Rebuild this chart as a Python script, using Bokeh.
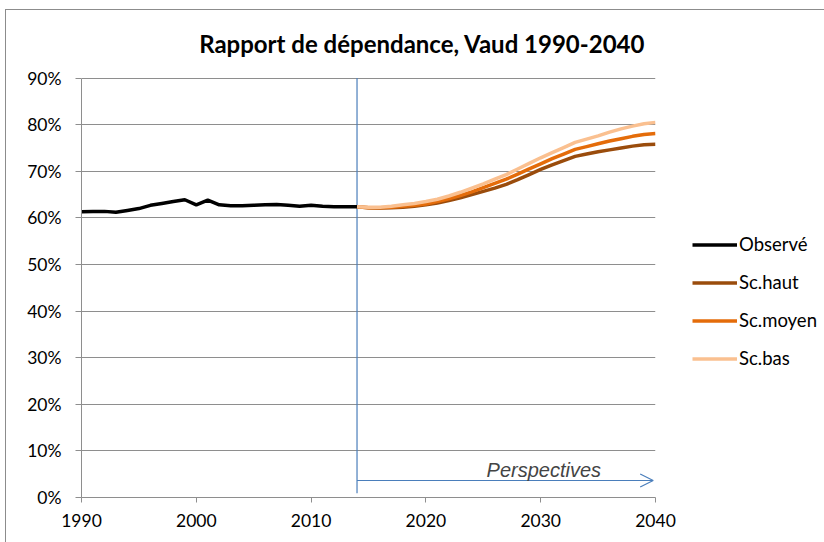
from bokeh.plotting import figure
from bokeh.layouts import row
from bokeh.models import (Range1d, FixedTicker, PrintfTickFormatter, Legend,
                          LegendItem, Label, Arrow, OpenHead)
from bokeh.embed import file_html
from bokeh.resources import INLINE

# ---- data ----
obs_years = list(range(1990, 2015))
obs_vals = [61.3, 61.35, 61.4, 61.2, 61.6, 62.0, 62.7, 63.1, 63.5, 63.9,
            62.8, 63.8, 62.8, 62.6, 62.6, 62.7, 62.8, 62.9, 62.7, 62.5,
            62.7, 62.5, 62.4, 62.4, 62.4]

proj_years = list(range(2014, 2041))
sc_haut = [62.4, 62.2, 62.1, 62.2, 62.3, 62.5, 62.8, 63.2, 63.7, 64.3,
           65.0, 65.7, 66.4, 67.2, 68.2, 69.3, 70.4, 71.4, 72.3, 73.2,
           73.7, 74.2, 74.6, 75.0, 75.4, 75.7, 75.8]
sc_moyen = [62.4, 62.2, 62.2, 62.3, 62.5, 62.7, 63.0, 63.5, 64.1, 64.8,
            65.6, 66.5, 67.4, 68.3, 69.4, 70.5, 71.6, 72.7, 73.7, 74.7,
            75.3, 75.9, 76.5, 77.0, 77.5, 77.9, 78.1]
sc_bas = [62.4, 62.3, 62.3, 62.5, 62.8, 63.1, 63.5, 64.0, 64.7, 65.5,
          66.4, 67.3, 68.3, 69.3, 70.5, 71.7, 72.9, 74.0, 75.1, 76.2,
          76.9, 77.6, 78.4, 79.1, 79.7, 80.2, 80.5]

series_labels = ["Observé", "Sc.haut", "Sc.moyen", "Sc.bas"]
x_ticks = [1990, 2000, 2010, 2020, 2030, 2040]
y_ticks = [0, 10, 20, 30, 40, 50, 60, 70, 80, 90]
title_text = "Rapport de dépendance, Vaud 1990-2040"
annot_text = "Perspectives"
split_year = 2014
arrow_end_year = 2039.8
arrow_level = 3.65

# ---- styles ----
GRAY = "#8e8e8e"
BLUE = "#4a7ebb"
C_OBS = "#000000"
C_HAUT = "#9a4c0c"
C_MOY = "#e46c0a"
C_BAS = "#fac090"
FONT = "Lato"
LW = 3.5

# the plot area is extended upward (axis bounded to 0-90 %) so that the
# title can sit inside the drawing area as a label
p = figure(width=674, height=532, output_backend="svg", toolbar_location=None,
           x_range=Range1d(1990, 2040), y_range=Range1d(0, 100),
           min_border_left=75, min_border_right=25,
           min_border_top=21, min_border_bottom=45)
p.outline_line_color = None
p.background_fill_color = "white"
p.border_fill_color = "white"

p.xgrid.visible = False
p.ygrid.grid_line_color = GRAY
p.ygrid.grid_line_width = 1
p.ygrid.ticker = FixedTicker(ticks=y_ticks)

p.xaxis.ticker = FixedTicker(ticks=x_ticks)
p.yaxis.ticker = FixedTicker(ticks=y_ticks)
p.yaxis.bounds = (y_ticks[0], y_ticks[-1])
p.yaxis.formatter = PrintfTickFormatter(format="%d%%")
for ax in (p.xaxis, p.yaxis):
    ax.axis_line_color = GRAY
    ax.major_tick_line_color = GRAY
    ax.minor_tick_line_color = None
    ax.major_tick_in = 0
    ax.major_label_text_font = FONT
    ax.major_label_text_font_size = "17.5px"
    ax.major_label_text_color = "black"
p.xaxis.major_tick_out = 5
p.yaxis.major_tick_out = 6
p.xaxis.major_label_standoff = 11
p.yaxis.major_label_standoff = 14

# separator line
p.segment(x0=[split_year], y0=[0.9], x1=[split_year], y1=[y_ticks[-1]],
          line_color=BLUE, line_width=1.2)

series = [(obs_years, obs_vals, C_OBS), (proj_years, sc_haut, C_HAUT),
          (proj_years, sc_moyen, C_MOY), (proj_years, sc_bas, C_BAS)]
for xs, ys, c in series:
    p.line(xs, ys, line_color=c, line_width=LW)

p.add_layout(Arrow(end=OpenHead(size=13, line_color=BLUE, line_width=1.2),
                   x_start=split_year, y_start=arrow_level,
                   x_end=arrow_end_year, y_end=arrow_level,
                   line_color=BLUE, line_width=1.2))

p.add_layout(Label(x=2030.27, y=5.95, text=annot_text, text_align="center",
                   text_baseline="alphabetic", text_font="Liberation Sans",
                   text_font_style="italic", text_font_size="20px"))

p.add_layout(Label(x=2019.68, y=97.4, text=title_text, text_align="center",
                   text_baseline="alphabetic", text_font=FONT,
                   text_font_style="bold", text_font_size="24px",
                   text_color="black"))

# ---- legend panel (same series, drawn off-range so only the legend shows) ----
pl = figure(width=144, height=532, output_backend="svg", toolbar_location=None,
            x_range=Range1d(0, 1), y_range=Range1d(0, 1),
            x_axis_location=None, y_axis_location=None, min_border=0)
pl.outline_line_color = None
pl.grid.visible = False
pl.background_fill_color = "white"
pl.border_fill_color = "white"
leg_renderers = [pl.line(xs, ys, line_color=c, line_width=LW) for xs, ys, c in series]

legend = Legend(items=[LegendItem(label=lab, renderers=[r])
                       for lab, r in zip(series_labels, leg_renderers)],
                location=(12, 128), orientation="vertical", padding=0, margin=0,
                spacing=16, glyph_width=45, glyph_height=21, label_height=21,
                label_standoff=2, border_line_color=None, background_fill_alpha=0,
                label_text_font=FONT, label_text_font_size="18.5px",
                label_text_color="black")
pl.add_layout(legend)

layout = row(p, pl, spacing=0)
layout.styles = {"margin-left": "5px", "margin-top": "9px",
                 "border-left": "1px solid #8c8c8c",
                 "border-top": "1px solid #8c8c8c"}

open("out.html", "w").write(file_html(layout, INLINE))
